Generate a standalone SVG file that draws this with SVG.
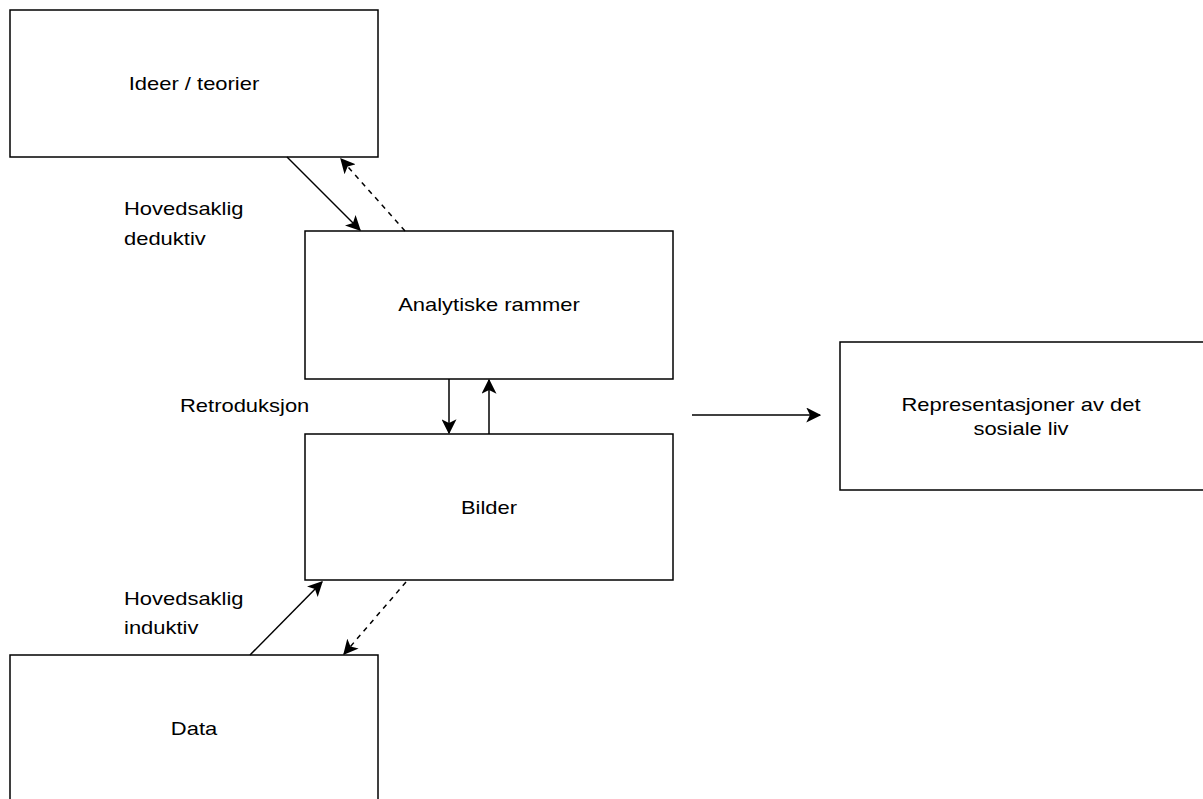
<svg xmlns="http://www.w3.org/2000/svg" width="1203" height="799" viewBox="0 0 1203 799">
<style>
.box{fill:#fff;stroke:#000;stroke-width:1.5}
.t{font-family:"Liberation Sans",Arial,sans-serif;font-size:18px;fill:#000}
.c{text-anchor:middle}
.ln{stroke:#000;stroke-width:1.5;fill:none}
.d{stroke-dasharray:5 5}
</style>
<defs>
<marker id="ah" viewBox="0 0 12 12" refX="11" refY="6" markerWidth="15" markerHeight="15" markerUnits="userSpaceOnUse" orient="auto">
<path d="M0,0 L12,6 L0,12 L3,6 Z" fill="#000"/>
</marker>
</defs>
<rect width="1203" height="799" fill="#fff"/>
<g id="ideer"><rect class="box" x="10" y="10" width="368" height="147"/><text class="t c" transform="translate(194,90) scale(1.22,1)">Ideer / teorier</text></g>
<g id="analytiske"><rect class="box" x="305" y="231" width="368" height="148"/><text class="t c" transform="translate(489,311) scale(1.22,1)">Analytiske rammer</text></g>
<g id="bilder"><rect class="box" x="305" y="434" width="368" height="146"/><text class="t c" transform="translate(489,514) scale(1.22,1)">Bilder</text></g>
<g id="data"><rect class="box" x="10" y="655" width="368" height="160"/><text class="t c" transform="translate(194,735) scale(1.22,1)">Data</text></g>
<g id="representasjoner"><rect class="box" x="840" y="342" width="370" height="148"/><text class="t c" transform="translate(1021,411) scale(1.22,1)">Representasjoner av det</text><text class="t c" transform="translate(1021,435) scale(1.22,1)">sosiale liv</text></g>
<g id="labels">
<text class="t" transform="translate(124,215) scale(1.22,1)">Hovedsaklig</text><text class="t" transform="translate(124,245) scale(1.22,1)">deduktiv</text>
<text class="t" transform="translate(180,412) scale(1.22,1)">Retroduksjon</text>
<text class="t" transform="translate(124,605) scale(1.22,1)">Hovedsaklig</text><text class="t" transform="translate(124,634) scale(1.22,1)">induktiv</text>
</g>
<g id="connectors">
<line class="ln" x1="287" y1="157" x2="360" y2="230" marker-end="url(#ah)"/>
<line class="ln d" x1="405" y1="231" x2="341" y2="159" marker-end="url(#ah)"/>
<line class="ln" x1="449" y1="379" x2="449" y2="433" marker-end="url(#ah)"/>
<line class="ln" x1="489" y1="434" x2="489" y2="380" marker-end="url(#ah)"/>
<line class="ln" x1="250" y1="655" x2="322" y2="582" marker-end="url(#ah)"/>
<line class="ln d" x1="406" y1="582" x2="344" y2="654" marker-end="url(#ah)"/>
<line class="ln" x1="692" y1="415" x2="820" y2="415" marker-end="url(#ah)"/>
</g>
</svg>
